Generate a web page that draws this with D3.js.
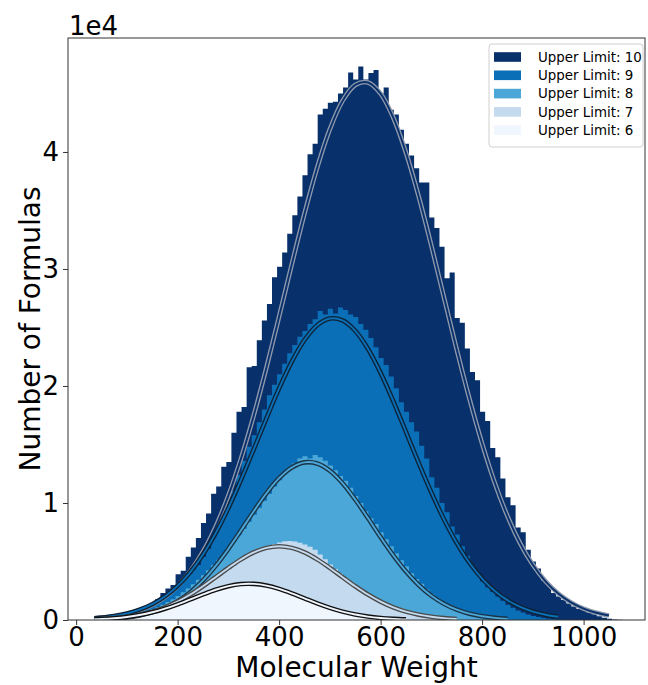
<!DOCTYPE html>
<html><head><meta charset="utf-8">
<script src="https://cdn.jsdelivr.net/npm/d3@7"></script>
<style>body{margin:0;background:#fff}svg{display:block;font-family:"DejaVu Sans",sans-serif}</style>
</head><body><svg id="chart" width="648" height="685"></svg>
<script>
// ---------- data ----------
const seriesLabels = ["Upper Limit: 10", "Upper Limit: 9", "Upper Limit: 8", "Upper Limit: 7", "Upper Limit: 6"];
const binStart = 36;   // left edge of first histogram bin (Molecular Weight)
const binWidth = 10;   // bin width (Molecular Weight)

const hist10 = [60,90,130,180,250,340,450,580,720,900,
 1150,1450,1800,2300,2700,3000,3900,4200,5400,6200,
 7000,8300,9100,10800,11400,13100,13500,16000,17800,18200,
 21600,21700,23900,25600,27000,29300,30200,31400,33000,34600,
 36200,38000,39800,40700,43200,43700,44200,44300,45000,45500,
 46800,46200,47300,46200,46750,47000,45000,45500,43600,43200,
 41900,40700,39700,38600,37400,37400,34400,33500,31900,29200,
 29700,25800,25400,23200,21200,20500,17800,17000,14700,13900,
 12100,10500,9800,7900,7500,6000,5000,4400,3400,3000,
 2300,2000,1700,1400,1150,950,850,650,500,330,
 200,110,50,20,10];
const hist9 = [60,90,130,180,250,330,430,560,700,870,
 1080,1330,1620,1950,2300,2700,3100,3500,3900,4300,
 4700,5400,6100,7000,7900,8800,9800,11000,12400,13600,
 14800,15800,16900,18000,19200,20100,21000,21900,22800,23500,
 24200,24700,25300,25700,26400,26100,26600,26200,26700,26500,
 26100,25900,25300,24800,24100,23300,22400,21800,20800,19800,
 18600,17800,16900,16100,14900,13800,12200,11300,10000,9200,
 8000,7300,6300,5500,4600,4000,3300,2800,2400,2000,
 1650,1300,1050,820,640,480,350,250,170,110,
 60,30];
const hist8 = [45,66,95,130,180,240,310,400,500,620,
 760,920,1100,1300,1530,1780,2060,2370,2700,3050,
 3430,3830,4250,4700,5150,5650,6150,6700,7250,7800,
 8400,9000,9600,10200,10800,11400,11950,12450,12950,13400,
 13800,14000,13800,14100,13900,13600,13200,12800,12300,11900,
 11300,10600,10000,9300,8700,8200,7500,6900,6300,5700,
 5100,4600,4000,3500,3100,2600,2200,1850,1550,1250,
 1000,800,620,470,350,260,180,120,80,50,
 30,15];
const hist7 = [70,95,125,160,200,250,310,380,460,550,
 660,780,910,1060,1230,1420,1620,1840,2080,2340,
 2600,2880,3170,3460,3760,4060,4360,4660,4950,5230,
 5500,5750,5980,6180,6350,6500,6620,6720,6750,6700,
 6600,6450,6250,6000,5600,5200,4750,4350,3950,3600,
 3250,2920,2620,2340,2080,1850,1640,1450,1280,1120,
 990,850,720,600,490,390,300,220,150,95,
 50,20];
const hist6 = [65,90,115,145,180,220,270,330,400,480,
 570,670,780,900,1030,1170,1320,1480,1640,1800,
 1960,2120,2280,2430,2580,2720,2850,2960,3060,3130,
 3180,3200,3180,3130,3050,2940,2800,2640,2460,2270,
 2080,1880,1680,1490,1300,1130,970,820,690,570,
 470,380,300,240,185,140,105,75,52,35,
 20,10];

// fitted curves, sampled at these molecular weights
const curveX = [36,50,75,100,125,150,175,200,225,250,275,300,325,350,375,400,425,450,475,500,
 525,550,575,600,625,650,675,700,725,750,775,800,825,850,875,900,925,950,975,1000,1025,1050];
const curve10 = [140,190,318,521,831,1291,1958,2892,4161,5833,7976,10631,13814,17480,21569,25935,30397,34725,38658,41947,
 44362,45729,45940,44983,42928,39928,36197,31984,27545,23115,18911,15079,11716,8878,6551,4715,3305,2259,1505,977,618,381];
const curve9 = [152,206,344,558,882,1352,2013,2913,4097,5596,7425,9572,11989,14585,17240,19796,22082,23932,25196,25771,
 25607,24720,23181,21120,18695,16073,13426,10898,8591,6582,4897,3540,2485,1695,1124,723,453,275];
const curve8 = [45,66,124,224,388,649,1041,1604,2376,3382,4624,6074,7665,9295,10830,12123,13037,13473,13376,12759,
 11694,10298,8712,7082,5531,4150,2992,2072,1380,882,542,320,181,99];
const curve7 = [63,90,161,277,456,719,1086,1571,2175,2884,3662,4452,5182,5776,6165,6300,6165,5776,5182,4452,
 3662,2884,2175,1571,1086,719,456,277,161,90];
const curve6 = [59,84,153,262,427,660,965,1338,1759,2190,2586,2894,3070,3087,2942,2657,2274,1845,1419,1035,
 715,468,291,171,95,50];

const xTicks = [0, 200, 400, 600, 800, 1000];
const yTicks = [0, 10000, 20000, 30000, 40000];
const yTickLabels = ["0", "1", "2", "3", "4"];
const xDomain = [-16, 1121];
const yDomain = [0, 49740];

// ---------- styles ----------
const fillColors = ["#08306b", "#0a6fb6", "#4aa7d8", "#c3daef", "#eff6fd"];
const edgeColors = ["#8f99ad", "#0e2236", "#1b3346", "#4a4a4a", "#111111"];

const hists = [hist10, hist9, hist8, hist7, hist6];
const curves = [curve10, curve9, curve8, curve7, curve6];

// ---------- layout ----------
const svg = d3.select("#chart");
const L = 68, R = 645, T = 38, B = 620;
const x = d3.scaleLinear().domain(xDomain).range([L, R]);
const y = d3.scaleLinear().domain(yDomain).range([B, T]);

svg.append("defs").append("clipPath").attr("id", "clip")
  .append("rect").attr("x", L).attr("y", T).attr("width", R - L).attr("height", B - T);

const plot = svg.append("g").attr("clip-path", "url(#clip)");

// histograms (step areas)
const area = d3.area().x(d => x(d[0])).y0(y(0)).y1(d => y(d[1]));
hists.forEach((h, k) => {
  const pts = [];
  h.forEach((c, i) => {
    const x0 = binStart + i * binWidth;
    pts.push([x0, c], [x0 + binWidth, c]);
  });
  plot.append("path").attr("d", area(pts)).attr("fill", fillColors[k]);
});

// fitted curves: dark/grey outer stroke with series-coloured core
const line = d3.line().x(d => x(d[0])).y(d => y(d[1])).curve(d3.curveCatmullRom.alpha(0.5));
curves.forEach((cv, k) => {
  const pts = cv.map((v, i) => [curveX[i], v]);
  plot.append("path").attr("d", line(pts)).attr("fill", "none")
    .attr("stroke", edgeColors[k]).attr("stroke-width", 4.6).attr("stroke-linejoin", "round");
  plot.append("path").attr("d", line(pts)).attr("fill", "none")
    .attr("stroke", fillColors[k]).attr("stroke-width", 1.9).attr("stroke-linejoin", "round");
});

// frame
svg.append("rect").attr("x", L).attr("y", T).attr("width", R - L).attr("height", B - T)
  .attr("fill", "none").attr("stroke", "#333").attr("stroke-width", 1);

// x axis
const xAxis = d3.axisBottom(x).tickValues(xTicks).tickSize(5).tickPadding(3).tickFormat(d3.format("d"));
const gx = svg.append("g").attr("transform", `translate(0,${B})`).call(xAxis);
gx.select(".domain").remove();
gx.selectAll("line").attr("stroke", "#333");
gx.selectAll("text").attr("font-size", 26).attr("fill", "#000").attr("font-family", "DejaVu Sans");

// y axis
const yAxis = d3.axisLeft(y).tickValues(yTicks).tickSize(5).tickPadding(4).tickFormat((d, i) => yTickLabels[i]);
const gy = svg.append("g").attr("transform", `translate(${L},0)`).call(yAxis);
gy.select(".domain").remove();
gy.selectAll("line").attr("stroke", "#333");
gy.selectAll("text").attr("font-size", 26).attr("fill", "#000").attr("font-family", "DejaVu Sans");

// offset text
svg.append("text").attr("x", L + 1).attr("y", 35).attr("font-size", 26).text("1e4");

// axis labels
svg.append("text").attr("x", (L + R) / 2).attr("y", 677).attr("text-anchor", "middle")
  .attr("font-size", 28).text("Molecular Weight");
svg.append("text").attr("transform", `translate(40,${(T + B) / 2}) rotate(-90)`)
  .attr("text-anchor", "middle").attr("font-size", 28).text("Number of Formulas");

// legend
const lg = svg.append("g");
lg.append("rect").attr("x", 489).attr("y", 44).attr("width", 154).attr("height", 103)
  .attr("rx", 3).attr("fill", "#fff").attr("fill-opacity", 0.8).attr("stroke", "#d0d0d0");
seriesLabels.forEach((lab, i) => {
  const cy = 57 + i * 18.3;
  lg.append("rect").attr("x", 494).attr("y", cy - 4.8).attr("width", 27).attr("height", 9.6).attr("fill", fillColors[i]);
  lg.append("text").attr("x", 538).attr("y", cy).attr("dy", "0.35em").attr("font-size", 13.4).text(lab);
});
</script></body></html>
